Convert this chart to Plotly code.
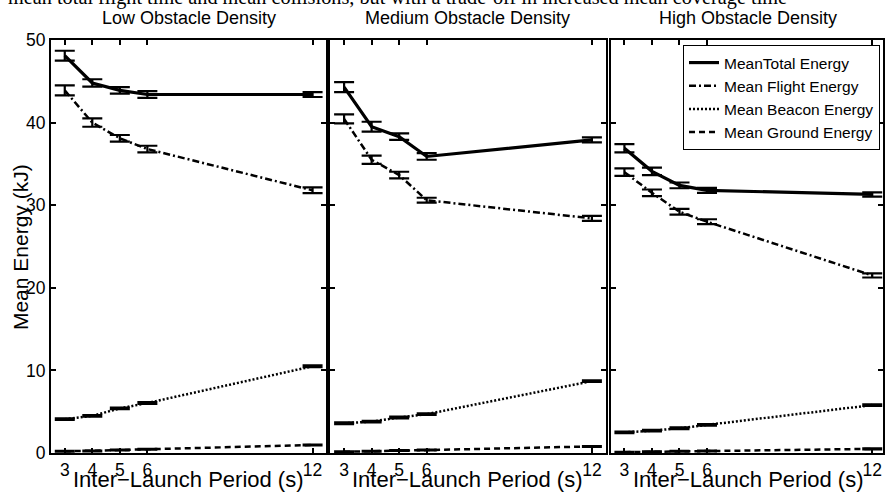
import plotly.graph_objects as go
from plotly.subplots import make_subplots

periods = [3, 4, 5, 6, 12]
panel_titles = ["Low Obstacle Density", "Medium Obstacle Density", "High Obstacle Density"]
series_names = ["MeanTotal Energy", "Mean Flight Energy", "Mean Beacon Energy", "Mean Ground Energy"]

# Low obstacle density
low_total = [48.1, 44.8, 43.9, 43.4, 43.4]
low_total_err = [0.6, 0.45, 0.4, 0.4, 0.3]
low_flight = [43.9, 40.0, 38.1, 36.8, 31.8]
low_flight_err = [0.6, 0.5, 0.4, 0.4, 0.35]
low_beacon = [4.1, 4.5, 5.4, 6.05, 10.5]
low_beacon_err = [0.1, 0.1, 0.1, 0.1, 0.1]
low_ground = [0.2, 0.25, 0.36, 0.45, 0.97]
low_ground_err = [0.05, 0.05, 0.05, 0.05, 0.05]

# Medium obstacle density
med_total = [44.3, 39.5, 38.3, 35.9, 37.9]
med_total_err = [0.6, 0.6, 0.4, 0.4, 0.3]
med_flight = [40.45, 35.5, 33.65, 30.6, 28.4]
med_flight_err = [0.55, 0.5, 0.4, 0.3, 0.3]
med_beacon = [3.6, 3.8, 4.3, 4.7, 8.7]
med_beacon_err = [0.1, 0.1, 0.1, 0.1, 0.1]
med_ground = [0.15, 0.2, 0.3, 0.35, 0.8]
med_ground_err = [0.05, 0.05, 0.05, 0.05, 0.05]

# High obstacle density
high_total = [36.9, 34.1, 32.4, 31.8, 31.3]
high_total_err = [0.5, 0.45, 0.35, 0.3, 0.25]
high_flight = [34.0, 31.5, 29.2, 28.0, 21.5]
high_flight_err = [0.45, 0.4, 0.35, 0.3, 0.25]
high_beacon = [2.5, 2.7, 3.0, 3.4, 5.8]
high_beacon_err = [0.1, 0.1, 0.1, 0.1, 0.1]
high_ground = [0.1, 0.15, 0.2, 0.25, 0.5]
high_ground_err = [0.05, 0.05, 0.05, 0.05, 0.05]

panels = [
    [(low_total, low_total_err), (low_flight, low_flight_err), (low_beacon, low_beacon_err), (low_ground, low_ground_err)],
    [(med_total, med_total_err), (med_flight, med_flight_err), (med_beacon, med_beacon_err), (med_ground, med_ground_err)],
    [(high_total, high_total_err), (high_flight, high_flight_err), (high_beacon, high_beacon_err), (high_ground, high_ground_err)],
]

styles = [
    dict(width=3.2, dash="solid"),
    dict(width=2.5, dash="7px,3px,2px,3px"),
    dict(width=2.5, dash="2px,2px"),
    dict(width=2.5, dash="6px,4px"),
]

FONT = "Liberation Sans, Arial, sans-serif"

W, H = 885, 495
L, R, T, B = 51, 0, 40, 42
PW = W - L - R
PH = H - T - B

def px_to_xdom(p):
    return (p - L) / PW

def px_to_y(p):
    return (H - B - p) / PH

doms = [(51, 327), (331, 607), (612, 885)]
ranges = [[2.5, 12.5], [2.5, 12.5], [2.5, 2.5 + (885 - 612) / 27.6]]

fig = make_subplots(rows=1, cols=3)

for i, panel in enumerate(panels):
    for j, (vals, errs) in enumerate(panel):
        fig.add_trace(
            go.Scatter(
                x=periods, y=vals, mode="lines", name=series_names[j],
                line=dict(color="black", **styles[j]),
                error_y=dict(type="data", array=errs, visible=True, color="black",
                             thickness=2.2, width=10),
                showlegend=(i == 0), legendgroup=series_names[j],
            ),
            row=1, col=i + 1,
        )

for i in range(3):
    xa = "xaxis" if i == 0 else f"xaxis{i+1}"
    ya = "yaxis" if i == 0 else f"yaxis{i+1}"
    fig.layout[xa].update(
        domain=[px_to_xdom(doms[i][0]), px_to_xdom(doms[i][1])],
        range=ranges[i], tickvals=periods, ticktext=[str(p) for p in periods],
        ticks="inside", ticklen=5, tickwidth=1.5, tickcolor="black",
        showline=True, linecolor="black", linewidth=2, mirror="ticks",
        showgrid=False, zeroline=False,
        tickfont=dict(family=FONT, size=17.5, color="black"),
    )
    fig.layout[ya].update(
        range=[0, 50], tickvals=[0, 10, 20, 30, 40, 50],
        ticks="inside", ticklen=5, tickwidth=1.5, tickcolor="black",
        showline=True, linecolor="black", linewidth=2, mirror="ticks",
        showgrid=False, zeroline=False, showticklabels=(i == 0),
        tickfont=dict(family=FONT, size=17.5, color="black"),
    )
    cx = (doms[i][0] + doms[i][1]) / 2
    if i == 2:
        cx = (612 + 888) / 2
    fig.add_annotation(
        text=panel_titles[i], xref="paper", yref="paper",
        x=px_to_xdom(cx), y=px_to_y(18), xanchor="center", yanchor="middle",
        showarrow=False, font=dict(family=FONT, size=18, color="black"),
    )
    fig.add_annotation(
        text="Inter\u2212Launch Period (s)", xref="paper", yref="paper",
        x=px_to_xdom(cx), y=px_to_y(479), xanchor="center", yanchor="middle",
        showarrow=False, font=dict(family=FONT, size=22, color="black"),
    )

fig.add_annotation(
    text="Mean Energy (kJ)", xref="paper", yref="paper",
    x=px_to_xdom(20), y=px_to_y(247), xanchor="center", yanchor="middle",
    textangle=-90, showarrow=False, font=dict(family=FONT, size=21, color="black"),
)

fig.add_annotation(
    text="mean total flight time and mean collisions, but with a trade-off in increased mean coverage time",
    xref="paper", yref="paper", x=px_to_xdom(6), y=px_to_y(-3),
    xanchor="left", yanchor="middle", showarrow=False,
    font=dict(family="Liberation Serif, Times New Roman, serif", size=20.3, color="black"),
)

fig.update_layout(
    width=W, height=H,
    margin=dict(l=L, r=R, t=T, b=B),
    paper_bgcolor="white", plot_bgcolor="white",
    showlegend=True,
    legend=dict(
        x=px_to_xdom(882), y=px_to_y(45), xanchor="right", yanchor="top",
        bgcolor="white", bordercolor="black", borderwidth=1,
        font=dict(family=FONT, size=15.5, color="black"),
        tracegroupgap=0, itemwidth=30,
    ),
)

fig.write_html(
    "out.html",
    config={"displayModeBar": False},
    post_script="document.body.style.margin='0';document.body.style.padding='0';",
)
